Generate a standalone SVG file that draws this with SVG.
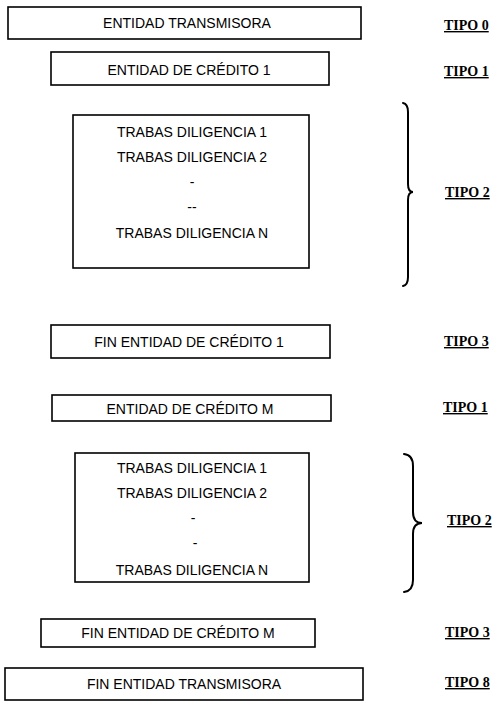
<svg xmlns="http://www.w3.org/2000/svg" width="500" height="706" viewBox="0 0 500 706">
<style>
.box{fill:#fff;stroke:#000;stroke-width:1.6}
.t{font-family:"Liberation Sans",Arial,sans-serif;font-size:14px;text-anchor:middle;fill:#000}
.tipo{font-family:"Liberation Serif","Times New Roman",serif;font-size:14px;font-weight:bold;text-decoration:underline;fill:#000}
.brace{fill:none;stroke:#000;stroke-width:2;stroke-linecap:round}
</style>
<rect width="500" height="706" fill="#fff"/>
<g id="n0"><rect class="box" x="8" y="7" width="353" height="32"/><text class="t" x="187" y="28">ENTIDAD TRANSMISORA</text></g>
<g id="n1"><rect class="box" x="51" y="52" width="278" height="33"/><text class="t" x="189" y="75">ENTIDAD DE CRÉDITO 1</text></g>
<g id="n2"><rect class="box" x="73" y="115" width="236" height="153"/>
<text class="t" x="192" y="137">TRABAS DILIGENCIA 1</text>
<text class="t" x="192" y="162">TRABAS DILIGENCIA 2</text>
<text class="t" x="192" y="187">-</text>
<text class="t" x="192" y="212">--</text>
<text class="t" x="192" y="238">TRABAS DILIGENCIA N</text></g>
<g id="n3"><rect class="box" x="51" y="325" width="279" height="33"/><text class="t" x="189" y="347">FIN ENTIDAD DE CRÉDITO 1</text></g>
<g id="n4"><rect class="box" x="52" y="395" width="279" height="26"/><text class="t" x="190" y="414">ENTIDAD DE CRÉDITO M</text></g>
<g id="n5"><rect class="box" x="75" y="453" width="234" height="129"/>
<text class="t" x="192" y="473">TRABAS DILIGENCIA 1</text>
<text class="t" x="192" y="498">TRABAS DILIGENCIA 2</text>
<text class="t" x="193" y="523">-</text>
<text class="t" x="195" y="548">-</text>
<text class="t" x="192" y="575">TRABAS DILIGENCIA N</text></g>
<g id="n6"><rect class="box" x="41" y="619" width="274" height="28"/><text class="t" x="178" y="638">FIN ENTIDAD DE CRÉDITO M</text></g>
<g id="n7"><rect class="box" x="5" y="668" width="358" height="32"/><text class="t" x="184" y="689">FIN ENTIDAD TRANSMISORA</text></g>
<g id="braces">
<path class="brace" d="M403,103 Q408,104 408,112 L408,184 Q408,192 413,192 Q408,192 408,200 L408,277 Q408,285 403,286"/>
<path class="brace" d="M404,454 Q413,455 413,466 L413,512 Q413,523 422,523 Q413,523 413,534 L413,580 Q413,591 404,592"/>
</g>
<g id="labels">
<text class="tipo" x="444" y="30">TIPO 0</text>
<text class="tipo" x="444" y="76">TIPO 1</text>
<text class="tipo" x="445" y="197">TIPO 2</text>
<text class="tipo" x="444" y="346">TIPO 3</text>
<text class="tipo" x="443" y="412">TIPO 1</text>
<text class="tipo" x="447" y="525">TIPO 2</text>
<text class="tipo" x="445" y="637">TIPO 3</text>
<text class="tipo" x="445" y="687">TIPO 8</text>
</g>
</svg>
